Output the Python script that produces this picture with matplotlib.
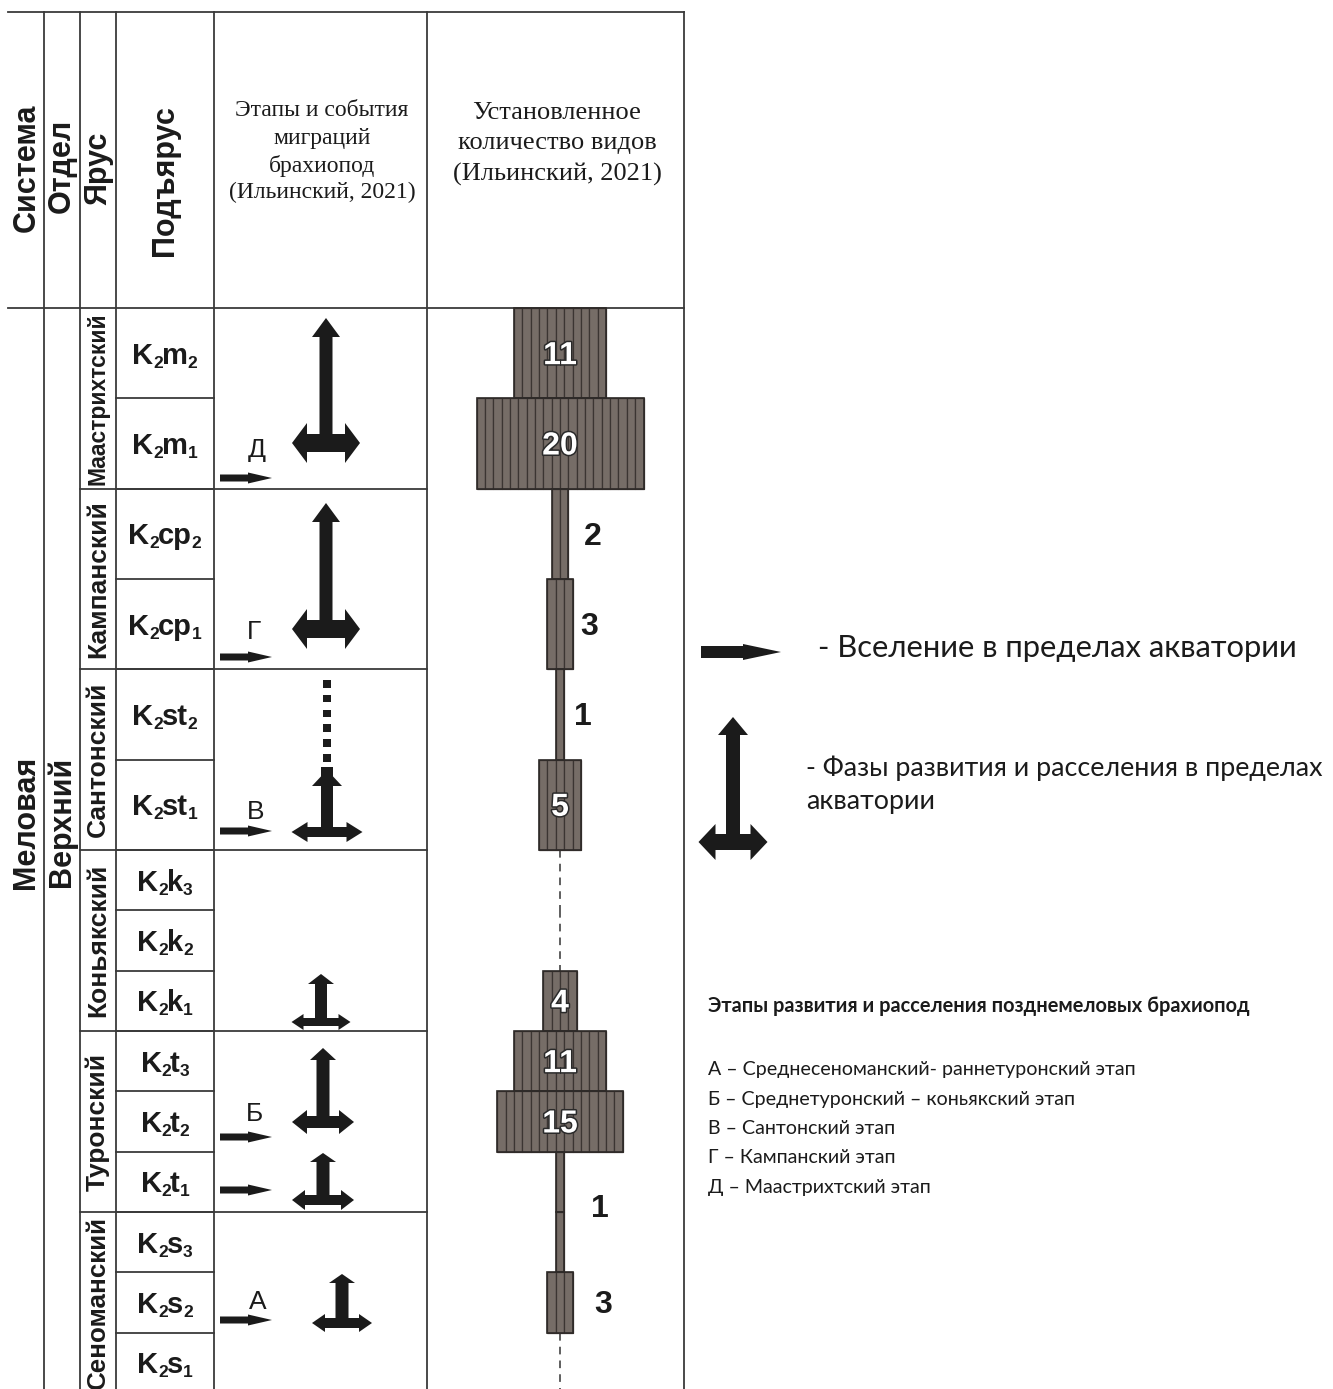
import matplotlib
matplotlib.use('Agg')
import matplotlib.pyplot as plt
from matplotlib.patches import Polygon, Rectangle
import matplotlib.patheffects as pe
import numpy as np

# ---------------- data ----------------
header_labels = ['Система', 'Отдел', 'Ярус', 'Подъярус']
header_events = ['Этапы и события', 'миграций', 'брахиопод', '(Ильинский, 2021)']
header_counts = ['Установленное', 'количество видов', '(Ильинский, 2021)']
system_name = 'Меловая'
series_name = 'Верхний'
stages = ['Маастрихтский', 'Кампанский', 'Сантонский', 'Коньякский', 'Туронский', 'Сеноманский']
stage_substages = [2, 2, 2, 3, 3, 3]
substage_codes = ['m2', 'm1', 'cp2', 'cp1', 'st2', 'st1', 'k3', 'k2', 'k1',
                  't3', 't2', 't1', 's3', 's2', 's1']
species_counts = [11, 20, 2, 3, 1, 5, None, None, 4, 11, 15, 1, 1, 3, None]
label_groups = [[0], [1], [2], [3], [4], [5], [8], [9], [10], [11, 12], [13]]
event_letters = ['Д', 'Г', 'В', 'Б', '', 'А']
event_rows = [1, 3, 5, 10, 11, 13]
legend_arrow_text = '- Вселение в пределах акватории'
legend_phase_text = ['- Фазы развития и расселения в пределах', 'акватории']
stages_title = 'Этапы развития и расселения позднемеловых брахиопод'
stages_items = ['А – Среднесеноманский- раннетуронский этап',
                'Б – Среднетуронский – коньякский этап',
                'В – Сантонский этап',
                'Г – Кампанский этап',
                'Д – Маастрихтский этап']

# ---------------- layout ----------------
W, H = 1333, 1389
col_x = [0, 44, 80, 116, 214, 427, 684]
top_y, head_y = 12, 308
row_h = [90.33] * 6 + [60.33] * 9
row_edges = head_y + np.concatenate([[0], np.cumsum(row_h)])
bar_cx, unit = 560, 8.35
fill_col, stripe_col, edge_col = '#766d67', '#3b3532', '#2e2a28'
ink = '#1b1b1b'
line_col = '#3a3a3a'
label_dx = [None, None, 24, 17, 19, None, None, None, None, 36, 31]
label_dy = 3
event_arrow_y = [478, 657, 831, 1137, 1190, 1320]
event_label_pos = [(257, 450), (254, 632), (256, 812), (255, 1114), None, (258, 1302)]
# phase arrows: cx, top, bar_y, half_span, stem_hw, head_hw, head_len, bar_hh, bhead_hh, bhead_len
phase_arrows = [(326, 318, 443, 34, 6.5, 14, 19, 9, 20, 15),
                (326, 503, 629, 34, 6.5, 14, 19, 9, 20, 15),
                (327, 770, 832, 35.5, 6, 15, 16, 5, 10, 16),
                (321, 974, 1022, 29.5, 6, 13, 10, 4, 8, 12),
                (323, 1048, 1122, 31, 6.5, 13, 12, 6, 12, 15),
                (323, 1153, 1200, 31, 6.5, 13, 9, 5, 10, 13),
                (342, 1274, 1323, 30, 6.5, 13, 9, 5, 9, 13)]
legend_phase_arrow = (733, 717, 842, 34.5, 7, 15, 18, 8, 18, 17)

fig = plt.figure(figsize=(W / 100, H / 100), dpi=100)
ax = fig.add_axes([0, 0, 1, 1])
ax.set_xlim(0, W)
ax.set_ylim(H, 0)
ax.axis('off')
fig.canvas.draw()
renderer = fig.canvas.get_renderer()


def t_arrow(cx, ty, by, hs, s, h, L, t, h2, L2, color=ink):
    pts = [(cx, ty), (cx + h, ty + L), (cx + s, ty + L), (cx + s, by - t),
           (cx + hs - L2, by - t), (cx + hs - L2, by - h2), (cx + hs, by),
           (cx + hs - L2, by + h2), (cx + hs - L2, by + t),
           (cx - hs + L2, by + t), (cx - hs + L2, by + h2), (cx - hs, by),
           (cx - hs + L2, by - h2), (cx - hs + L2, by - t),
           (cx - s, by - t), (cx - s, ty + L), (cx - h, ty + L)]
    ax.add_patch(Polygon(pts, closed=True, facecolor=color, edgecolor='none', zorder=5))


def h_arrow(x0, x1, y, s, xh, hh, color=ink):
    pts = [(x0, y - s), (xh, y - s), (xh, y - hh), (x1, y), (xh, y + hh),
           (xh, y + s), (x0, y + s)]
    ax.add_patch(Polygon(pts, closed=True, facecolor=color, edgecolor='none', zorder=5))


def sub_label(xc, yc, code, size=21, subsize=12.5):
    letters = code[:-1]
    parts = [('K', False), ('2', True), (letters, False), (code[-1], True)]
    base = yc + 0.716 * size * 100 / 72 / 2
    items = []
    for txt, sub in parts:
        t = ax.text(0, base + (4 if sub else 0), txt, fontsize=subsize if sub else size,
                    fontweight='bold', family='Liberation Sans', ha='left',
                    va='baseline', color=ink)
        w = t.get_window_extent(renderer).width
        items.append((t, w, sub))
    gaps = [-1.5 if sub else 0 for _, _, sub in items]
    total = sum(w for _, w, _ in items) + sum(gaps[:-1])
    x = xc - total / 2
    for (t, w, sub), g in zip(items, gaps):
        t.set_x(x)
        x += w + g


lw = 1.3
bottom = row_edges[-1]
# table frame
ax.plot([8, col_x[-1]], [top_y, top_y], color=line_col, lw=lw)
ax.plot([8, col_x[-1]], [head_y, head_y], color=line_col, lw=lw)
for x in col_x[1:]:
    ax.plot([x, x], [top_y, bottom], color=line_col, lw=lw)

# stage lines & substage lines
stage_edges = head_y + np.concatenate([[0], np.cumsum([sum(row_h[sum(stage_substages[:i]):sum(stage_substages[:i + 1])]) for i in range(len(stages))])])
for y in stage_edges[1:-1]:
    ax.plot([col_x[2], col_x[5]], [y, y], color=line_col, lw=lw)
for y in row_edges[1:-1]:
    ax.plot([col_x[3], col_x[4]], [y, y], color=line_col, lw=lw)

# header texts
hdr_x = [27, 62, 98, 165]
hdr_y = [168, 166, 168, 181]
for lab, x, y in zip(header_labels, hdr_x, hdr_y):
    ax.text(x, y, lab, rotation=90, ha='center', va='center', fontsize=22,
            fontweight='bold', family='Liberation Sans', color=ink)
for i, line in enumerate(header_events):
    ax.text(322, 111 + i * 27.3, line, ha='center', va='center', fontsize=17,
            family='Liberation Serif', color=ink)
for i, line in enumerate(header_counts):
    ax.text(557, 113 + i * 30.5, line, ha='center', va='center', fontsize=19,
            family='Liberation Serif', color=ink)

ax.text(26, 822, system_name, rotation=90, ha='center', va='center', fontsize=22,
        fontweight='bold', family='Liberation Sans', color=ink)
ax.text(62, 822, series_name, rotation=90, ha='center', va='center', fontsize=22,
        fontweight='bold', family='Liberation Sans', color=ink)

# stage names fitted to their interval
for i, name in enumerate(stages):
    y0, y1 = stage_edges[i], stage_edges[i + 1]
    tx = ax.text(98, (y0 + y1) / 2, name, rotation=90, ha='center', va='center',
                 fontsize=19, fontweight='bold', family='Liberation Sans', color=ink)
    ext = tx.get_window_extent(renderer)
    avail = (y1 - y0) - 8
    if ext.height > avail:
        tx.set_fontsize(19 * avail / ext.height)

# substage labels
for i, code in enumerate(substage_codes):
    yc = (row_edges[i] + row_edges[i + 1]) / 2
    sub_label(165, yc, code)

# species bars
for i, n in enumerate(species_counts):
    y0, y1 = row_edges[i], row_edges[i + 1]
    yc, h = (y0 + y1) / 2, y1 - y0
    if n is None:
        ax.plot([bar_cx, bar_cx], [y0, y1], color='#333333', lw=1.1,
                ls=(0, (5, 4)), zorder=2)
        continue
    left = bar_cx - n * unit / 2
    lefts = left + np.arange(n) * unit
    ax.barh([yc] * n, [unit] * n, left=lefts, height=h, color=fill_col,
            edgecolor=stripe_col, linewidth=0.9, zorder=3)
    ax.barh(yc, n * unit, left=left, height=h, facecolor='none',
            edgecolor=edge_col, linewidth=1.2, zorder=4)

# species labels
for g, rows in enumerate(label_groups):
    n = species_counts[rows[0]]
    yc = np.mean([(row_edges[r] + row_edges[r + 1]) / 2 for r in rows]) + label_dy
    if n >= 4:
        ax.text(bar_cx, yc, str(n), ha='center', va='center', fontsize=23,
                fontweight='bold', family='Liberation Sans', color='white', zorder=6,
                path_effects=[pe.withStroke(linewidth=2.2, foreground='#2a2a2a')])
    else:
        if len(rows) > 1:
            yc -= 6
        ax.text(bar_cx + n * unit / 2 + label_dx[g], yc, str(n), ha='center', va='center',
                fontsize=23, fontweight='bold', family='Liberation Sans', color=ink, zorder=6)

# immigration events
for letter, ay, lp in zip(event_letters, event_arrow_y, event_label_pos):
    h_arrow(220, 272, ay, 3.5, 248, 5.5)
    if lp is not None and letter:
        ax.text(lp[0], lp[1], letter, ha='center', va='center', fontsize=19,
                family='Liberation Sans', color=ink)

# phase arrows
for p in phase_arrows:
    t_arrow(*p)
# dotted continuation in Santonian
for k in range(6):
    ys = 680 + k * 14.8
    ax.add_patch(Rectangle((323, ys), 8, 7.5, facecolor=ink, edgecolor='none', zorder=5))
ax.add_patch(Rectangle((321, 767), 12, 22, facecolor=ink, edgecolor='none', zorder=5))

# legend
h_arrow(701, 781, 652, 6, 743, 8)
ax.text(818, 648, legend_arrow_text, ha='left', va='center', fontsize=22.3,
        family='Lato', color=ink)
t_arrow(*legend_phase_arrow)
ax.text(806, 768, legend_phase_text[0], ha='left', va='center', fontsize=19.4,
        family='Lato', color=ink)
ax.text(806, 801, legend_phase_text[1], ha='left', va='center', fontsize=19.4,
        family='Lato', color=ink)

ax.text(708, 1006, stages_title, ha='left', va='center', fontsize=14.4,
        fontweight='bold', family='Lato', color=ink)
for i, item in enumerate(stages_items):
    ax.text(708, 1070 + i * 29.3, item, ha='left', va='center', fontsize=14.1,
            family='Lato', color=ink)

fig.savefig('out.png', dpi=100)
